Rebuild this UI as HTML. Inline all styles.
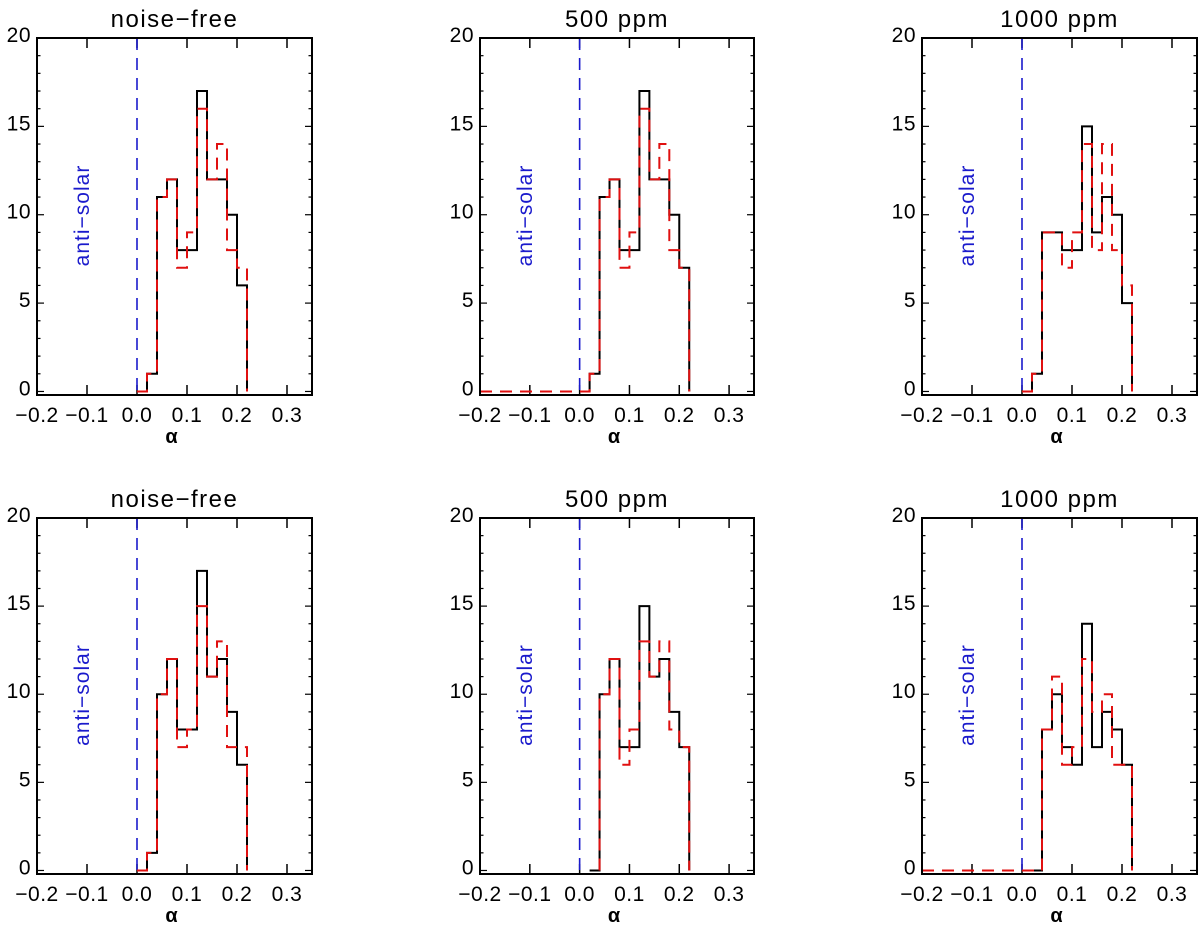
<!DOCTYPE html>
<html><head><meta charset="utf-8"><style>
html,body{margin:0;padding:0;background:#fff;}
svg{display:block;font-family:"Liberation Sans","DejaVu Sans",sans-serif;}
</style></head><body>
<svg id="fig" width="1200" height="934" viewBox="0 0 1200 934" xmlns="http://www.w3.org/2000/svg"></svg>
<script>
const binEdges = [0.02,0.04,0.06,0.08,0.10,0.12,0.14,0.16,0.18,0.20,0.22];
const titles = ["noise\u2212free","500  ppm","1000  ppm","noise\u2212free","500  ppm","1000  ppm"];
const blackP1 = [1,11,12,8,8,17,12,12,10,6];
const redP1   = [1,11,12,7,9,16,12,14,8,7];
const blackP2 = [1,11,12,8,8,17,12,12,10,7];
const redP2   = [1,11,12,7,9,16,12,14,8,7];
const blackP3 = [1,9,9,8,8,15,9,11,10,5];
const redP3   = [1,9,9,7,9,14,8,14,8,6];
const blackP4 = [1,10,12,8,8,17,11,12,9,6];
const redP4   = [1,10,12,7,8,15,11,13,7,7];
const blackP5 = [0,10,12,7,7,15,11,12,9,7];
const redP5   = [0,10,12,6,8,13,11,13,8,7];
const blackP6 = [0,8,10,7,6,14,7,9,8,6];
const redP6   = [0,8,11,6,7,12,9,10,6,6];
const blackSeries = [blackP1,blackP2,blackP3,blackP4,blackP5,blackP6];
const redSeries = [redP1,redP2,redP3,redP4,redP5,redP6];
const redStart = [0.0,-0.3,0.0,0.0,0.04,-0.3];
const xTicks = [-0.2,-0.1,0.0,0.1,0.2,0.3];
const xTickLabels = ["\u22120.2","\u22120.1","0.0","0.1","0.2","0.3"];
const yTicks = [0,5,10,15,20];
const xMin=-0.2, xMax=0.35, yMin=-0.2, yMax=20;

const NS="http://www.w3.org/2000/svg";
const svg=document.getElementById('fig');
function mk(tag,attrs,parent){const e=document.createElementNS(NS,tag);for(const k in attrs)e.setAttribute(k,attrs[k]);(parent||svg).appendChild(e);return e;}

const cols=[[37,312],[480,754],[922,1197]];
const rows=[[38,395],[518,874]];

for(let p=0;p<6;p++){
  const [L,R]=cols[p%3]; const [T,B]=rows[Math.floor(p/3)];
  const xs=v=>L+(v-xMin)/(xMax-xMin)*(R-L);
  const ys=v=>B-(v-yMin)/(yMax-yMin)*(B-T);
  const g=mk('g',{});
  
  
  const t=mk('text',{x:(L+R)/2,y:T-11,'text-anchor':'middle','font-size':24,'letter-spacing':1.5,fill:'#000'},g);
  t.textContent=titles[p];
  
  
  for(let i=0;i<xTicks.length;i++){
    const x=xs(xTicks[i]);
    if(x>L+1){mk('line',{x1:x,x2:x,y1:B,y2:B-10,stroke:'#000','stroke-width':1.5},g);mk('line',{x1:x,x2:x,y1:T,y2:T+10,stroke:'#000','stroke-width':1.5},g);}
    const tl=mk('text',{x:x,y:B+27,'text-anchor':'middle','font-size':21,'letter-spacing':0.5,fill:'#000'},g);
    tl.textContent=xTickLabels[i];
    
    
  }
  for(let v=0;v<=20;v++){
    const y=ys(v); const len=(v%5===0)?7:3.5;
    mk('line',{x1:L,x2:L+len,y1:y,y2:y,stroke:'#000','stroke-width':1.2},g);
    mk('line',{x1:R,x2:R-len,y1:y,y2:y,stroke:'#000','stroke-width':1.2},g);
  }
  for(const v of yTicks){
    const yl=mk('text',{x:L-6,y:ys(v)+4,'text-anchor':'end','font-size':21,'letter-spacing':0.5,fill:'#000'},g);
    yl.textContent=String(v);
    
    
  }
  const al=mk('text',{x:(L+R)/2-3,y:B+48,'text-anchor':'middle','font-size':20,'font-weight':'bold',fill:'#000'},g);
  al.textContent='\u03b1';
  
  
  const bl=mk('line',{x1:xs(0),x2:xs(0),y1:T,y2:B,stroke:'#1a1acc','stroke-width':1.6,'stroke-dasharray':'12,8'},g);
  
  
  const as=mk('text',{x:0,y:0,'text-anchor':'middle','font-size':21,'letter-spacing':1,fill:'#1a1acc',transform:`translate(${L+52},${(T+B)/2-1}) rotate(-90)`},g);
  as.textContent='anti\u2212solar';
  
  
  function stepPath(vals,start){
    let first=0; while(first<vals.length&&vals[first]===0)first++;
    let x0=Math.min(start,binEdges[first]);
    let d=`M${xs(x0)},${ys(0)} L${xs(binEdges[first])},${ys(0)}`;
    for(let i=first;i<vals.length;i++){
      d+=` L${xs(binEdges[i])},${ys(vals[i])} L${xs(binEdges[i+1])},${ys(vals[i])}`;
    }
    d+=` L${xs(binEdges[vals.length])},${ys(0)}`;
    return d;
  }
  const bk=mk('path',{d:stepPath(blackSeries[p],binEdges[0]),fill:'none',stroke:'#000','stroke-width':2},g);
  
  
  const rd=mk('path',{d:stepPath(redSeries[p],Math.max(redStart[p],-0.2)),fill:'none',stroke:'#e01010','stroke-width':2,'stroke-dasharray':'12,8'},g);
  
  
  const fr=mk('rect',{x:L,y:T,width:R-L,height:B-T,fill:'none',stroke:'#000','stroke-width':2},g);
  
  
}
</script>
</body></html>
